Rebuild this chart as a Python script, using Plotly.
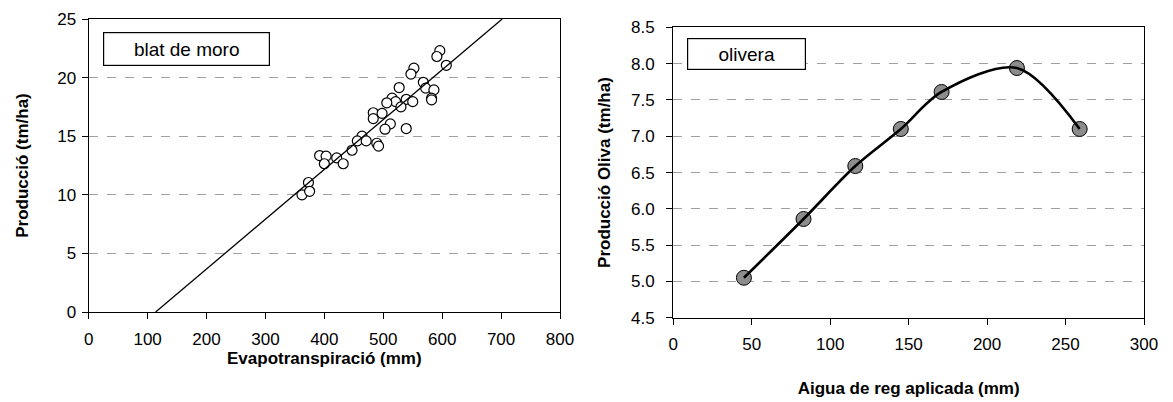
import plotly.graph_objects as go

# Left chart: blat de moro (maize)
et_mm = [596, 591, 607, 552, 547, 568, 572, 586, 582, 582, 527, 515, 521, 539, 550, 530,
         506, 483, 498, 483, 512, 503, 539, 464, 456, 471, 489, 492, 447, 392, 403, 421,
         400, 432, 373, 362, 375]
yield_maize = [22.3, 21.8, 21.05, 20.8, 20.3, 19.6, 19.1, 18.95, 18.25, 18.1, 19.15, 18.25,
               17.95, 18.15, 17.95, 17.5, 17.85, 17.0, 16.95, 16.5, 16.05, 15.6, 15.65, 15.0,
               14.6, 14.6, 14.4, 14.15, 13.8, 13.35, 13.3, 13.15, 12.65, 12.65, 11.05, 10.0, 10.3]
trend_slope = 0.0425
trend_intercept = -4.83

# Right chart: olivera (olive)
water_mm = [45, 83, 116, 145, 171, 219, 259]
yield_olive = [5.05, 5.86, 6.59, 7.10, 7.61, 7.94, 7.10]

left_xticks = [0, 100, 200, 300, 400, 500, 600, 700, 800]
left_yticks = [0, 5, 10, 15, 20, 25]
right_xticks = [0, 50, 100, 150, 200, 250, 300]
right_yticks = [4.5, 5.0, 5.5, 6.0, 6.5, 7.0, 7.5, 8.0, 8.5]

W, H = 1173, 402
FONT = "Liberation Sans, Arial, sans-serif"

x_lo = -trend_intercept / trend_slope
x_hi = (25 - trend_intercept) / trend_slope
trend_x = [x_lo, x_hi]
trend_y = [trend_slope * v + trend_intercept for v in trend_x]

fig = go.Figure()
fig.add_trace(go.Scatter(x=et_mm, y=yield_maize, mode="markers",
                         marker=dict(symbol="circle", size=10, color="white",
                                     line=dict(color="black", width=1.2)),
                         xaxis="x", yaxis="y", showlegend=False))
fig.add_trace(go.Scatter(x=trend_x, y=trend_y, mode="lines",
                         line=dict(color="black", width=1.3),
                         xaxis="x", yaxis="y", showlegend=False))
fig.add_trace(go.Scatter(x=water_mm, y=yield_olive, mode="markers",
                         marker=dict(symbol="circle", size=15, color="#8c8c8c",
                                     line=dict(color="black", width=1)),
                         xaxis="x2", yaxis="y2", showlegend=False))
fig.add_trace(go.Scatter(x=water_mm, y=yield_olive, mode="lines",
                         line=dict(color="black", width=2.6, shape="spline", smoothing=0.9),
                         xaxis="x2", yaxis="y2", showlegend=False))

axis_common = dict(showline=True, linecolor="black", linewidth=1.3, mirror=True,
                   ticks="outside", ticklen=6, tickcolor="black", tickwidth=1,
                   zeroline=False, automargin=False,
                   tickfont=dict(family=FONT, size=17, color="black"))
grid = dict(showgrid=True, gridcolor="#a0a0a0", griddash="dash", gridwidth=1)
title_font = dict(family=FONT, size=17, color="black")

fig.update_layout(
    width=W, height=H,
    margin=dict(l=0, r=0, t=0, b=0, autoexpand=False),
    paper_bgcolor="white", plot_bgcolor="white",
    font=dict(family=FONT, color="black"),
    xaxis=dict(domain=[88.7 / W, 560 / W], range=[0, 800], tickvals=left_xticks,
               showgrid=False, anchor="y", ticklabelstandoff=5,
               title=dict(text="<b>Evapotranspiració (mm)</b>", standoff=0, font=title_font),
               **axis_common),
    yaxis=dict(domain=[1 - 312 / H, 1 - 19 / H], range=[0, 25], tickvals=left_yticks,
               anchor="x", ticklabelstandoff=2, **grid,
               title=dict(text="<b>Producció (tm/ha)</b>", standoff=24, font=title_font),
               **axis_common),
    xaxis2=dict(domain=[673.3 / W, 1144 / W], range=[0, 300], tickvals=right_xticks,
                showgrid=False, anchor="y2", ticklabelstandoff=5,
                title=dict(text="<b>Aigua de reg aplicada (mm)</b>", standoff=28, font=title_font),
                **axis_common),
    yaxis2=dict(domain=[1 - 317.7 / H, 1 - 27.4 / H], range=[4.5, 8.5], tickvals=right_yticks,
                tickformat=".1f", anchor="x2", ticklabelstandoff=8, **grid,
                title=dict(text="<b>Producció Oliva (tm/ha)</b>", standoff=16, font=title_font),
                **axis_common),
    annotations=[
        dict(text="blat de moro", xref="paper", yref="paper",
             x=186.3 / W, y=1 - 48.7 / H, xanchor="center", yanchor="middle",
             showarrow=False, width=163, height=30, bgcolor="white",
             bordercolor="black", borderwidth=1.2, borderpad=1,
             font=dict(family=FONT, size=19, color="black")),
        dict(text="olivera", xref="paper", yref="paper",
             x=746.3 / W, y=1 - 54.5 / H, xanchor="center", yanchor="middle",
             showarrow=False, width=115, height=28, bgcolor="white",
             bordercolor="black", borderwidth=1.2, borderpad=1,
             font=dict(family=FONT, size=19, color="black")),
    ],
)

fig.write_html("out.html", config={"displayModeBar": False},
               post_script="document.body.style.margin='0';document.body.style.overflow='hidden';")
